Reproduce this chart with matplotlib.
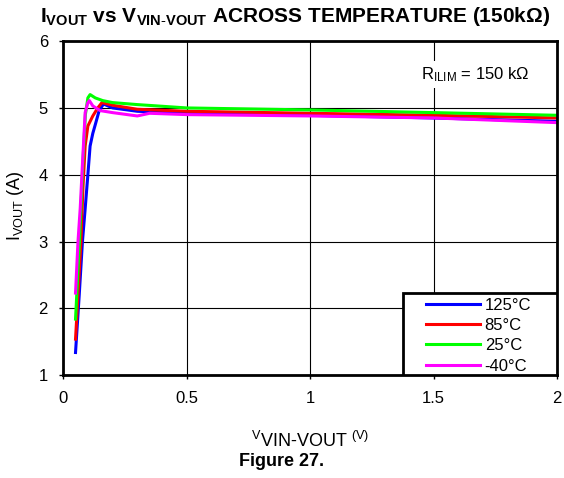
import numpy as np
import matplotlib
matplotlib.use('Agg')
import matplotlib.pyplot as plt
from matplotlib.patches import Rectangle

plt.rcParams['font.family'] = ['Liberation Sans', 'DejaVu Sans']
plt.rcParams['mathtext.fontset'] = 'custom'
plt.rcParams['mathtext.rm'] = 'Liberation Sans'
plt.rcParams['mathtext.it'] = 'Liberation Sans'
plt.rcParams['mathtext.bf'] = 'Liberation Sans:bold'

# Output current vs input-output voltage, four temperatures
x_125 = [0.05, 0.065, 0.078, 0.089, 0.1, 0.109, 0.12, 0.13, 0.145, 0.163, 0.2, 0.3, 0.5, 1.0, 1.5, 2.0]
y_125 = [1.34, 2.2, 3.0, 3.49, 4.0, 4.43, 4.62, 4.75, 4.95, 5.06, 5.0, 4.95, 4.92, 4.89, 4.85, 4.80]

x_85 = [0.05, 0.06, 0.072, 0.08, 0.089, 0.1, 0.12, 0.14, 0.157, 0.2, 0.3, 0.5, 1.0, 1.5, 2.0]
y_85 = [1.54, 2.2, 3.0, 3.8, 4.43, 4.73, 4.88, 5.0, 5.08, 5.04, 4.98, 4.95, 4.92, 4.89, 4.85]

x_25 = [0.05, 0.066, 0.08, 0.09, 0.1, 0.109, 0.13, 0.16, 0.2, 0.3, 0.5, 1.0, 1.5, 2.0]
y_25 = [1.84, 3.0, 4.2, 4.9, 5.15, 5.2, 5.15, 5.11, 5.08, 5.05, 5.0, 4.97, 4.93, 4.89]

x_m40 = [0.05, 0.06, 0.069, 0.08, 0.089, 0.1, 0.106, 0.12, 0.15, 0.2, 0.3, 0.35, 0.5, 1.0, 1.5, 2.0]
y_m40 = [2.23, 3.0, 3.5, 4.3, 4.93, 5.08, 5.11, 5.03, 4.96, 4.93, 4.88, 4.92, 4.9, 4.88, 4.85, 4.78]

labels = ['125°C', '85°C', '25°C', '-40°C']
colors = ['#0000FF', '#FF0000', '#00FF00', '#FF00FF']

fig = plt.figure(figsize=(5.64, 4.78), dpi=100)
ax = fig.add_axes([0.112, 0.215, 0.876, 0.699])

for xs, ys, lab, col in zip([x_125, x_85, x_25, x_m40], [y_125, y_85, y_25, y_m40], labels, colors):
    ax.plot(xs, ys, color=col, lw=2.2, label=lab)

ax.set_xlim(0, 2)
ax.set_ylim(1, 6)
ax.set_xticks([0, 0.5, 1, 1.5, 2])
ax.set_xticklabels(['0', '0.5', '1', '1.5', '2'])
ax.set_yticks([1, 2, 3, 4, 5, 6])
ax.grid(True, color='black', lw=0.8)
ax.tick_params(labelsize=12, length=3, width=1, direction='out', pad=8)
for s in ax.spines.values():
    s.set_linewidth(2)

# legend box drawn by hand, legend entries without frame
ax.add_patch(Rectangle((0.688, 0.0), 0.312, 0.246, transform=ax.transAxes,
                       facecolor='white', edgecolor='black', lw=2, zorder=4))
leg = ax.legend(loc='lower left', bbox_to_anchor=(0.735, 0.005), fontsize=12,
                frameon=False, borderaxespad=0, borderpad=0, handlelength=3.2,
                labelspacing=0.32, handletextpad=0.3)
leg.set_zorder(5)

ax.text(0.945, 0.90, r'$\mathrm{R_{ILIM}}$ = 150 k$\Omega$', transform=ax.transAxes,
        ha='right', va='center', fontsize=12, zorder=3,
        bbox=dict(facecolor='white', edgecolor='none', pad=3))

fig.text(0.524, 0.965, r'$\mathbf{I_{VOUT}}$ vs $\mathbf{V_{VIN\text{-}VOUT}}$ ACROSS TEMPERATURE (150k$\mathbf{\Omega}$)',
         ha='center', va='center', fontsize=15, fontweight='bold')

fig.text(0.027, 0.569, r'I$_{\mathrm{VOUT}}$ (A)', rotation=90, ha='center', va='center', fontsize=13)
fig.text(0.55, 0.078, r'$^{\mathrm{V}}$VIN-VOUT $^{\mathrm{(V)}}$', ha='center', va='center', fontsize=13)
fig.text(0.5, 0.034, 'Figure 27.', ha='center', va='center', fontsize=13, fontweight='bold')

fig.savefig('out.png', dpi=100)
